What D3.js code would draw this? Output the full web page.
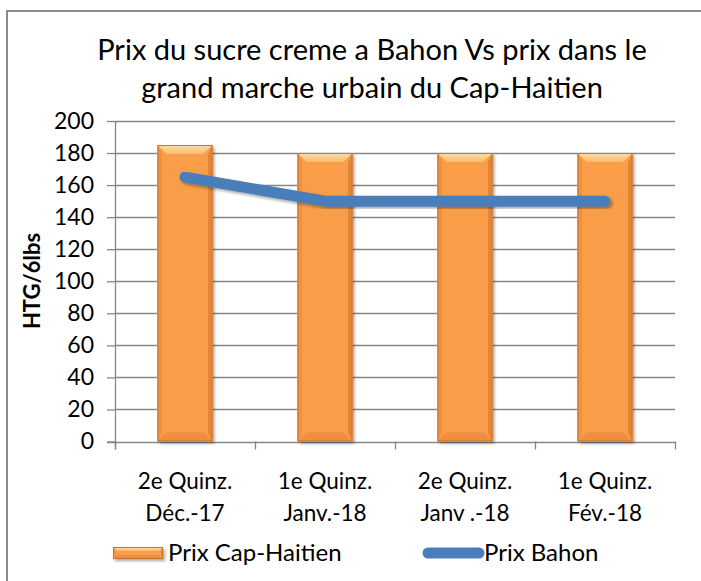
<!DOCTYPE html>
<html><head><meta charset="utf-8">
<script src="https://cdn.jsdelivr.net/npm/d3@7"></script>
<style>
html,body{margin:0;padding:0;background:#fff;}
svg{display:block;font-family:Lato, "Open Sans", sans-serif;}
</style></head>
<body>
<svg id="chart" width="701" height="581"></svg>
<script>
const titleLines = ["Prix du sucre creme a Bahon Vs prix dans le", "grand marche urbain du Cap-Haitien"];
const categories = [["2e Quinz.", "Déc.-17"], ["1e Quinz.", "Janv.-18"], ["2e Quinz.", "Janv .-18"], ["1e Quinz.", "Fév.-18"]];
const capHaitien = [185, 180, 180, 180];
const bahon = [165, 150, 150, 150];
const yTicks = [0, 20, 40, 60, 80, 100, 120, 140, 160, 180, 200];
const yTitle = "HTG/6lbs";
const seriesNames = ["Prix Cap-Haitien", "Prix Bahon"];

const svg = d3.select("#chart");
const W = 701, H = 581;
const plot = {left: 115, right: 675, top: 121, bottom: 441.5};

const defs = svg.append("defs");
const sh = defs.append("filter").attr("id", "shadow").attr("x", "-20%").attr("y", "-20%").attr("width", "150%").attr("height", "150%");
sh.append("feDropShadow").attr("dx", 2).attr("dy", 2).attr("stdDeviation", 1.6).attr("flood-color", "#000").attr("flood-opacity", 0.35);
const topGrad = defs.append("linearGradient").attr("id", "topGrad").attr("x1", 0).attr("y1", 0).attr("x2", 0).attr("y2", 1);
topGrad.append("stop").attr("offset", "0%").attr("stop-color", "#FDE3B0");
topGrad.append("stop").attr("offset", "100%").attr("stop-color", "#FBB866");

// border
svg.append("path").attr("d", `M7,${H} L7,11 L${W},11`).attr("fill", "none").attr("stroke", "#8a8a8a").attr("stroke-width", 2);

// title
svg.append("g").selectAll("text").data(titleLines).join("text")
  .attr("x", 372).attr("y", (d, i) => 60 + i * 38)
  .attr("text-anchor", "middle").attr("font-size", 29).attr("fill", "#000")
  .text(d => d);

const x = d3.scaleBand().domain(d3.range(categories.length)).range([plot.left, plot.right])
  .paddingInner(0.607).paddingOuter(0.3035);
const y = d3.scaleLinear().domain([0, 200]).range([plot.bottom, plot.top]);
const cx = i => x(i) + x.bandwidth() / 2;

// gridlines
svg.append("g").selectAll("line").data(yTicks.filter(t => t > 0)).join("line")
  .attr("x1", plot.left).attr("x2", plot.right)
  .attr("y1", d => Math.round(y(d)) + 0.5).attr("y2", d => Math.round(y(d)) + 0.5)
  .attr("stroke", "#878787").attr("stroke-width", 1.3);

// y axis
const yAxis = d3.axisLeft(y).tickValues(yTicks).tickSize(8).tickPadding(13);
const gy = svg.append("g").attr("transform", `translate(${plot.left},0)`).call(yAxis);
gy.select(".domain").remove();
gy.selectAll(".tick line").attr("stroke", "#878787").attr("stroke-width", 1.3);
gy.selectAll(".tick text").attr("font-size", 23).attr("font-family", "Lato").attr("fill", "#000");
svg.append("line").attr("x1", plot.left + 0.5).attr("x2", plot.left + 0.5)
  .attr("y1", plot.top).attr("y2", plot.bottom + 8).attr("stroke", "#878787").attr("stroke-width", 1.3);

// x axis
svg.append("line").attr("x1", plot.left - 8).attr("x2", plot.right).attr("y1", Math.round(plot.bottom) + 0.5).attr("y2", Math.round(plot.bottom) + 0.5)
  .attr("stroke", "#878787").attr("stroke-width", 1.3);
const edges = d3.range(categories.length + 1).map(i => plot.left + i * x.step());
svg.append("g").selectAll("line").data(edges).join("line")
  .attr("x1", d => Math.round(d) + 0.5).attr("x2", d => Math.round(d) + 0.5)
  .attr("y1", plot.bottom).attr("y2", plot.bottom + 8)
  .attr("stroke", "#878787").attr("stroke-width", 1.3);

// category labels
const cat = svg.append("g").selectAll("text").data(categories).join("text")
  .attr("text-anchor", "middle").attr("font-size", 22.5).attr("fill", "#000");
cat.each(function(d, i) {
  d3.select(this).selectAll("tspan").data(d).join("tspan")
    .attr("x", cx(i)).attr("y", (t, j) => 489 + j * 32).text(t => t);
});

// y title
svg.append("text").attr("transform", "translate(40,281) rotate(-90)")
  .attr("text-anchor", "middle").attr("font-size", 22).attr("font-weight", "bold").text(yTitle);

// bevel bar
function bevelBar(g, x0, y0, w, h, b) {
  g.append("rect").attr("x", x0).attr("y", y0).attr("width", w).attr("height", h)
    .attr("fill", "#F99D4A").attr("filter", "url(#shadow)");
  g.append("path").attr("d", `M${x0},${y0} L${x0 + w},${y0} L${x0 + w - b},${y0 + b} L${x0 + b},${y0 + b} Z`).attr("fill", "url(#topGrad)");
  g.append("path").attr("d", `M${x0},${y0} L${x0 + b * 0.5},${y0 + b} L${x0 + b * 0.5},${y0 + h - b} L${x0},${y0 + h} Z`).attr("fill", "#F0913F");
  g.append("path").attr("d", `M${x0 + w},${y0} L${x0 + w - b * 0.5},${y0 + b} L${x0 + w - b * 0.5},${y0 + h - b} L${x0 + w},${y0 + h} Z`).attr("fill", "#E4853A");
  g.append("path").attr("d", `M${x0},${y0 + h} L${x0 + b},${y0 + h - b} L${x0 + w - b},${y0 + h - b} L${x0 + w},${y0 + h} Z`).attr("fill", "#EE8E40");
  g.append("rect").attr("x", x0 + 0.5).attr("y", y0 + 0.5).attr("width", w - 1).attr("height", h - 1)
    .attr("fill", "none").attr("stroke", "#C8732E").attr("stroke-width", 1);
}

const bars = svg.append("g");
capHaitien.forEach((v, i) => {
  const g = bars.append("g");
  bevelBar(g, x(i), y(v), x.bandwidth(), y(0) - y(v), 9);
});

// line
const line = d3.line().x((d, i) => cx(i)).y(d => y(d));
svg.append("path").datum(bahon).attr("d", line).attr("fill", "none")
  .attr("stroke", "#4A7EBB").attr("stroke-width", 11).attr("stroke-linecap", "round").attr("stroke-linejoin", "round")
  .attr("filter", "url(#shadow)");

// legend
const lg = svg.append("g");
bevelBar(lg.append("g"), 113, 547, 50, 12, 4);
lg.append("text").attr("x", 168).attr("y", 561).attr("font-size", 24).text(seriesNames[0]);
lg.append("line").attr("x1", 428).attr("x2", 479).attr("y1", 553).attr("y2", 553)
  .attr("stroke", "#4A7EBB").attr("stroke-width", 11).attr("stroke-linecap", "round");
lg.append("text").attr("x", 484).attr("y", 561).attr("font-size", 24).text(seriesNames[1]);
</script>
</body></html>
